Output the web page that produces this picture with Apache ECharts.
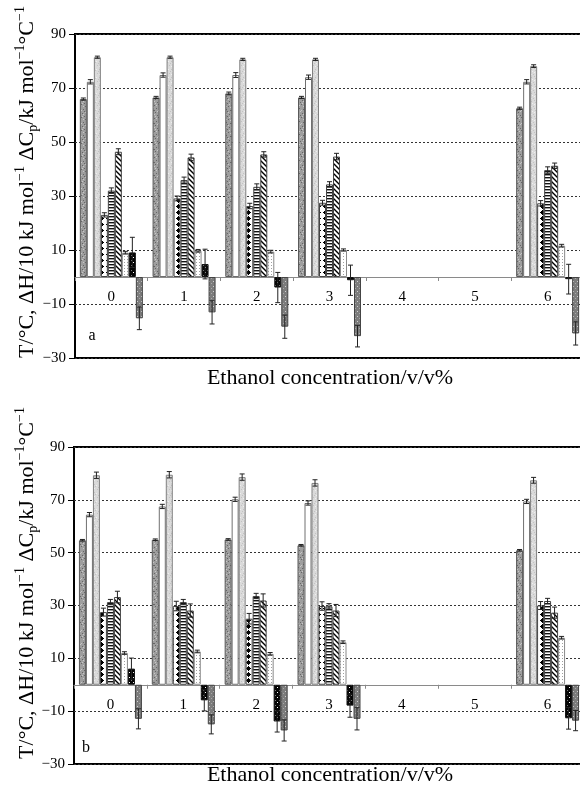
<!DOCTYPE html>
<html><head><meta charset="utf-8">
<script src="https://cdn.jsdelivr.net/npm/echarts@6/dist/echarts.min.js"></script>
<style>html,body{margin:0;padding:0;background:#fff}#c{width:580px;height:787px}</style>
</head><body><div id="c"></div>
<script>
// ---------- data ----------
const categories = ['0', '1', '2', '3', '4', '5', '6'];
const yMin = -30, yMax = 90, yStep = 20;

// panel a values (categories 4 and 5 have no data)
const a1 = [65.9, 66.5, 68.0, 66.5, null, null, 62.5];
const a2 = [72.3, 74.8, 74.8, 74.0, null, null, 72.3];
const a3 = [81.4, 81.4, 80.6, 80.6, null, null, 78.1];
const a4 = [23.0, 29.1, 26.3, 27.5, null, null, 27.3];
const a5 = [32.0, 35.9, 33.4, 34.3, null, null, 39.6];
const a6 = [46.4, 44.3, 45.4, 44.6, null, null, 41.2];
const a7 = [9.0, 9.7, 9.4, 10.0, null, null, 11.6];
const a8 = [9.1, 4.8, -3.9, -1.2, null, null, -0.8];
const a9 = [-15.3, -13.1, -18.4, -21.9, null, null, -20.9];
// panel a error bars
const ae1 = [0.4, 0.4, 0.5, 0.4, null, null, 0.4];
const ae2 = [0.8, 0.8, 0.9, 0.8, null, null, 0.8];
const ae3 = [0.4, 0.4, 0.4, 0.4, null, null, 0.5];
const ae4 = [0.8, 0.9, 1.0, 0.9, null, null, 1.0];
const ae5 = [1.0, 1.1, 1.1, 1.0, null, null, 1.2];
const ae6 = [1.1, 1.2, 1.0, 1.2, null, null, 1.0];
const ae7 = [0.5, 0.5, 0.5, 0.4, null, null, 0.5];
const ae8 = [5.6, 5.5, 5.6, 5.6, null, null, 5.5];
const ae9 = [4.2, 4.3, 4.3, 4.0, null, null, 4.3];

// panel b values
const b1 = [54.7, 54.9, 55.0, 52.8, null, null, 50.9];
const b2 = [64.4, 67.5, 70.2, 68.8, null, null, 69.4];
const b3 = [79.3, 79.5, 78.6, 76.4, null, null, 77.4];
const b4 = [27.5, 29.8, 25.0, 29.8, null, null, 30.0];
const b5 = [31.3, 31.3, 33.6, 29.7, null, null, 31.7];
const b6 = [33.2, 28.1, 31.9, 28.1, null, null, 27.3];
const b7 = [12.0, 12.6, 11.7, 16.1, null, null, 17.8];
const b8 = [6.1, -5.9, -13.9, -7.9, null, null, -12.7];
const b9 = [-12.9, -15.0, -17.3, -12.9, null, null, -13.6];
// panel b error bars
const be1 = [0.3, 0.3, 0.3, 0.3, null, null, 0.3];
const be2 = [0.8, 0.8, 0.8, 0.8, null, null, 0.8];
const be3 = [1.2, 1.2, 1.2, 1.2, null, null, 1.1];
const be4 = [1.5, 1.8, 2.0, 1.6, null, null, 1.5];
const be5 = [1.0, 1.0, 1.0, 1.0, null, null, 1.0];
const be6 = [2.2, 2.5, 2.5, 2.3, null, null, 2.1];
const be7 = [0.5, 0.5, 0.5, 0.5, null, null, 0.5];
const be8 = [4.0, 4.0, 4.0, 4.4, null, null, 4.1];
const be9 = [3.8, 3.6, 4.0, 4.2, null, null, 3.8];

const xTitle = 'Ethanol concentration/v/v%';
const panelTags = ['a', 'b'];

// ---------- styles ----------
const SERIF = 'Liberation Serif';
const BW = 7;

function pat(w, h, bg, draw) {
  const c = document.createElement('canvas');
  c.width = w; c.height = h;
  const g = c.getContext('2d');
  g.fillStyle = bg; g.fillRect(0, 0, w, h);
  draw(g);
  return { image: c, repeat: 'repeat' };
}
function px(g, col, pts) { g.fillStyle = col; pts.forEach(p => g.fillRect(p[0], p[1], 1, 1)); }

const fills = [
  pat(11, 13, '#9e9e9e', g => {
    px(g, '#666', [[0,1],[4,0],[8,2],[2,4],[6,5],[10,6],[1,8],[5,9],[9,10],[3,11],[7,12],[0,6],[7,7]]);
    px(g, '#c8c8c8', [[2,1],[6,2],[10,3],[4,6],[8,8],[0,10],[3,7],[9,0],[5,12],[1,12],[6,10]]);
  }),
  '#ffffff',
  pat(8, 8, '#dadada', g => { px(g, '#c2c2c2', [[1,1],[5,2],[3,5],[7,6],[6,4],[2,7]]); px(g, '#efefef', [[3,2],[6,0],[0,5],[4,7]]); }),
  pat(7, 6, '#ffffff', g => { g.fillStyle = '#000'; g.fillRect(2, 1, 3, 3); g.fillRect(3, 0, 1, 5); g.fillRect(1, 2, 5, 1); }),
  pat(2, 3, '#ffffff', g => { g.fillStyle = '#111'; g.fillRect(0, 0, 2, 1.4); }),
  pat(5, 5, '#ffffff', g => { g.strokeStyle = '#000'; g.lineWidth = 1.4; g.beginPath(); g.moveTo(-1, -1); g.lineTo(6, 6); g.moveTo(-1, 4); g.lineTo(1, 6); g.moveTo(4, -1); g.lineTo(6, 1); g.stroke(); }),
  pat(3, 3, '#ffffff', g => { px(g, '#a0a0a0', [[1, 1]]); }),
  pat(4, 5, '#050505', g => { px(g, '#ffffff', [[1, 2]]); px(g, '#777', [[3, 0]]); }),
  pat(4, 5, '#7c7c7c', g => { px(g, '#d0d0d0', [[1, 1]]); px(g, '#a8a8a8', [[3, 3]]); })
];
const borders = ['#5a5a5a', '#707070', '#808080', '#444', '#444', '#444', '#8a8a8a', '#111', '#444'];

const panels = [
  { vals: [a1, a2, a3, a4, a5, a6, a7, a8, a9], errs: [ae1, ae2, ae3, ae4, ae5, ae6, ae7, ae8, ae9], top: 34, bottom: 429, left: 75 },
  { vals: [b1, b2, b3, b4, b5, b6, b7, b8, b9], errs: [be1, be2, be3, be4, be5, be6, be7, be8, be9], top: 447, bottom: 23, left: 74 }
];

const H = 787;
const grid = [], xAxis = [], yAxis = [], series = [];
panels.forEach((p, gi) => {
  const h = H - p.top - p.bottom;
  const zeroOffset = h * (0 - yMin) / (yMax - yMin); // distance from bottom edge to zero line
  grid.push({ left: p.left, right: -4, top: p.top, bottom: p.bottom, show: true, borderColor: '#000', borderWidth: 2, backgroundColor: 'transparent', outerBoundsMode: 'none', containLabel: false });
  xAxis.push({
    gridIndex: gi, type: 'category', data: categories, position: 'bottom', offset: -zeroOffset,
    axisLine: { show: true, onZero: false, lineStyle: { color: '#8a8a8a', width: 1 } },
    axisTick: { show: true, length: 4, inside: false, lineStyle: { color: '#8a8a8a' } },
    axisLabel: { interval: 0, margin: 13, fontFamily: SERIF, fontSize: 15, color: '#000' },
    splitLine: { show: false }
  });
  yAxis.push({
    gridIndex: gi, type: 'value', min: yMin, max: yMax, interval: yStep,
    axisLine: { show: false },
    axisTick: { show: true, length: 6, lineStyle: { color: '#000' } },
    axisLabel: { margin: 9, fontFamily: SERIF, fontSize: 15, color: '#000', formatter: v => String(v).replace('-', '\u2212') },
    splitLine: { show: true, lineStyle: { type: [2, 2], color: '#333', width: 1 } }
  });
  p.vals.forEach((arr, i) => {
    series.push({
      type: 'bar', xAxisIndex: gi, yAxisIndex: gi, data: arr,
      barWidth: BW, barGap: '0%',
      itemStyle: { color: fills[i], borderColor: borders[i], borderWidth: 1 },
      z: 2
    });
  });
  p.vals.forEach((arr, i) => {
    const data = [];
    arr.forEach((v, k) => { if (v != null) data.push([k, v, p.errs[i][k]]); });
    series.push({
      type: 'custom', xAxisIndex: gi, yAxisIndex: gi, data: data, z: 4,
      encode: { x: 0, y: 1 },
      renderItem: (params, api) => {
        const k = api.value(0), v = api.value(1), e = api.value(2);
        const t = api.coord([k, v + e]), b = api.coord([k, v - e]);
        const x = t[0] + (i - 4) * BW;
        const st = { stroke: '#222', lineWidth: 1 };
        return { type: 'group', children: [
          { type: 'line', shape: { x1: x, y1: t[1], x2: x, y2: b[1] }, style: st },
          { type: 'line', shape: { x1: x - 2.5, y1: t[1], x2: x + 2.5, y2: t[1] }, style: st },
          { type: 'line', shape: { x1: x - 2.5, y1: b[1], x2: x + 2.5, y2: b[1] }, style: st }
        ] };
      }
    });
  });
});

const yRich = {
  n: { fontFamily: SERIF, fontSize: 22, color: '#000', lineHeight: 27 },
  s: { fontFamily: SERIF, fontSize: 14, color: '#000', verticalAlign: 'top', lineHeight: 27 },
  sub: { fontFamily: SERIF, fontSize: 14, color: '#000', verticalAlign: 'bottom', lineHeight: 23 }
};
const yTitle = '{n|T/°C, ΔH/10 kJ mol}{s|\u22121}{n| ΔC}{sub|p}{n|/kJ mol}{s|\u22121}{n|°C}{s|\u22121}';

const graphic = [];
[[27, 182, 378, 336, 92], [27, 583, 775, 748, 86]].forEach((g, gi) => {
  graphic.push({ type: 'text', x: g[0], y: g[1], rotation: Math.PI / 2,
    style: { text: yTitle, rich: yRich, align: 'center', verticalAlign: 'middle', fill: '#000' } });
  graphic.push({ type: 'text', x: 330, y: g[2],
    style: { text: xTitle, fontFamily: SERIF, fontSize: 22, fill: '#000', align: 'center', verticalAlign: 'middle' } });
  graphic.push({ type: 'text', x: g[4], y: g[3],
    style: { text: panelTags[gi], fontFamily: SERIF, fontSize: 16, fill: '#000', align: 'center', verticalAlign: 'middle' } });
});

const chart = echarts.init(document.getElementById('c'), null, { renderer: 'canvas' });
chart.setOption({
  animation: false,
  backgroundColor: '#fff',
  grid, xAxis, yAxis, series, graphic,
  tooltip: { show: false }
});
</script></body></html>
